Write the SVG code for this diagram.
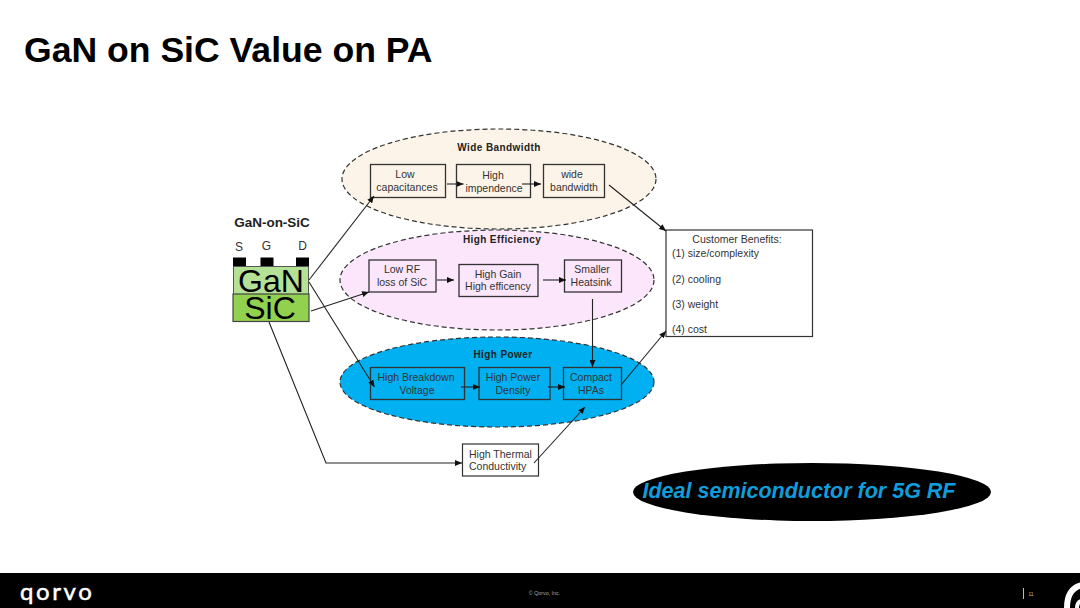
<svg xmlns="http://www.w3.org/2000/svg" width="1080" height="608" viewBox="0 0 1080 608">
<style>
text{font-family:"Liberation Sans",Arial,sans-serif;fill:#333;font-size:10.5px;text-anchor:middle}
.h{font-weight:bold;fill:#222;font-size:10px;letter-spacing:.4px}
.l{text-anchor:start}
.e{stroke:#333;stroke-width:1.2;stroke-dasharray:5 3}
.b{fill:none;stroke:#333;stroke-width:1.3}
.c line,.c path{fill:none;stroke:#222;stroke-width:1.1;marker-end:url(#a)}
.g{fill:#000}
</style>
<defs><marker id="a" markerUnits="userSpaceOnUse" markerWidth="8" markerHeight="6" refX="7" refY="3" orient="auto"><path d="M0 0L7 3L0 6z" fill="#111"/></marker></defs>
<rect width="1080" height="608" fill="#fff"/>
<text x="24" y="62" style="font-size:35.600px;font-weight:bold;fill:#000;text-anchor:start">GaN on SiC Value on PA</text>

<g id="wide-bandwidth-zone"><ellipse class="e" cx="499" cy="179" rx="157" ry="50" fill="#fdf4e9"/><text class="h" x="499" y="151">Wide Bandwidth</text></g>
<g id="high-efficiency-zone"><ellipse class="e" cx="497" cy="280" rx="157" ry="50" fill="#fbe6fb"/><text class="h" x="502" y="243">High Efficiency</text></g>
<g id="high-power-zone"><ellipse class="e" cx="497" cy="382" rx="157" ry="45" fill="#00b0f0"/><text class="h" x="503" y="358">High Power</text></g>

<g id="gan-on-sic">
<text x="272" y="227" style="font-size:13.500px;font-weight:bold;fill:#222">GaN-on-SiC</text>
<text x="239" y="251" style="font-size:12px">S</text><text x="266.500" y="250" style="font-size:12px">G</text><text x="302.500" y="250" style="font-size:12px">D</text>
<rect class="g" x="233" y="257.500" width="13" height="10"/><rect class="g" x="260.500" y="257.500" width="13" height="10"/><rect class="g" x="296" y="257.500" width="13" height="10"/>
<rect x="233.500" y="266.500" width="75" height="28" fill="#b5e196" stroke="#555" stroke-width="1"/>
<rect x="233" y="294" width="76" height="27.500" fill="#92d050" stroke="#444" stroke-width="1.200"/>
<text x="271" y="292" style="font-size:32px;fill:#000">GaN</text>
<text x="270" y="319" style="font-size:32px;fill:#000">SiC</text>
</g>

<g id="low-capacitances"><rect class="b" x="370.500" y="164.500" width="75" height="33"/><text x="405" y="178">Low</text><text x="407" y="191">capacitances</text></g>
<g id="high-impendence"><rect class="b" x="456.500" y="164.500" width="74" height="33"/><text x="493" y="179">High</text><text x="494" y="192">impendence</text></g>
<g id="wide-bandwidth"><rect class="b" x="543.500" y="164.500" width="61" height="33"/><text x="572" y="178">wide</text><text x="574" y="191">bandwidth</text></g>
<g id="low-rf-loss"><rect class="b" x="369" y="260" width="67" height="32"/><text x="402" y="273">Low RF</text><text x="402" y="286">loss of SiC</text></g>
<g id="high-gain"><rect class="b" x="459" y="264.500" width="79" height="32"/><text x="498" y="278">High Gain</text><text x="498" y="290">High efficency</text></g>
<g id="smaller-heatsink"><rect class="b" x="564.500" y="260" width="57" height="32"/><text x="592" y="273">Smaller</text><text x="591" y="286">Heatsink</text></g>
<g id="high-breakdown"><rect class="b" x="370.500" y="367.500" width="94" height="32"/><text x="416" y="381">High Breakdown</text><text x="417" y="394">Voltage</text></g>
<g id="high-power-density"><rect class="b" x="479" y="367.500" width="71" height="32"/><text x="513" y="381">High Power</text><text x="513" y="394">Density</text></g>
<g id="compact-hpas"><rect class="b" x="563.500" y="367.500" width="58" height="32"/><text x="591" y="381">Compact</text><text x="591" y="394">HPAs</text></g>
<g id="high-thermal"><rect x="462.500" y="444" width="76" height="32" fill="#fff" stroke="#333" stroke-width="1.200"/><text class="l" x="469" y="458">High Thermal</text><text class="l" x="469" y="470">Conductivity</text></g>
<g id="customer-benefits"><rect x="666" y="230" width="146.500" height="106.500" fill="#fff" stroke="#333" stroke-width="1.200"/>
<text x="737" y="243">Customer Benefits:</text>
<text class="l" x="672" y="257">(1) size/complexity</text><text class="l" x="672" y="283">(2) cooling</text><text class="l" x="672" y="308">(3) weight</text><text class="l" x="672" y="333">(4) cost</text></g>

<g id="connectors" class="c">
<line x1="309" y1="280" x2="374" y2="196"/>
<line x1="309" y1="282" x2="374.500" y2="387"/>
<line x1="311" y1="311" x2="369" y2="292"/>
<path d="M269 322L326 463H462"/>
<line x1="447" y1="184" x2="463.500" y2="184"/>
<line x1="522" y1="184" x2="541" y2="184"/>
<line x1="437" y1="280" x2="454" y2="280"/>
<line x1="543" y1="280" x2="566" y2="280"/>
<line x1="592.500" y1="299" x2="592.500" y2="367"/>
<line x1="461" y1="387" x2="480" y2="387"/>
<line x1="548" y1="387" x2="565" y2="387"/>
<line x1="621" y1="385" x2="666" y2="331"/>
<line x1="534" y1="463" x2="585" y2="407"/>
<line x1="609" y1="185" x2="666" y2="231"/>
</g>

<g id="ideal-callout"><ellipse cx="812" cy="492" rx="179" ry="29" fill="#000"/>
<text x="799" y="498" style="font-size:21.500px;font-weight:bold;font-style:italic;fill:#0f9ddc">Ideal semiconductor for 5G RF</text></g>

<g id="footer">
<rect y="573" width="1080" height="35" fill="#000"/>
<text x="20" y="600" style="font-family:Lato,'Liberation Sans',sans-serif;font-size:24px;fill:#fff;stroke:#fff;stroke-width:.5;letter-spacing:2.600px;text-anchor:start">qorvo</text>
<text x="544.500" y="595" style="font-size:5.300px;fill:#aaa">© Qorvo, Inc.</text>
<rect x="1023" y="588" width="1" height="11" fill="#bbb"/>
<text x="1031" y="596" style="font-size:5px;fill:#bbb">11</text>
<path d="M1067 608C1067 594 1073 587 1082 585" fill="none" stroke="#fff" stroke-width="6"/>
<path d="M1077 608C1077 604 1078 602 1081 601" fill="none" stroke="#fff" stroke-width="4"/>
</g>
</svg>
